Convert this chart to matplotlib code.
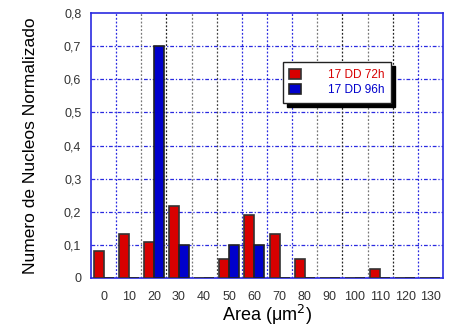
import numpy as np
import matplotlib.pyplot as plt

plt.rcParams["font.family"] = ["Liberation Sans", "DejaVu Sans"]

areas = [0, 10, 20, 30, 40, 50, 60, 70, 80, 90, 100, 110, 120, 130]
dd72 = [0.083, 0.134, 0.108, 0.216, 0, 0.057, 0.19, 0.134, 0.057, 0, 0, 0.027, 0, 0]
dd96 = [0, 0, 0.70, 0.10, 0, 0.10, 0.10, 0, 0, 0, 0, 0, 0, 0]
yticks = [0, 0.1, 0.2, 0.3, 0.4, 0.5, 0.6, 0.7, 0.8]
ylabels = ["0", "0,1", "0,2", "0,3", "0,4", "0,5", "0,6", "0,7", "0,8"]

red = "#d80000"
blue = "#0000cc"
axcol = "#2a2ae0"

fig = plt.figure(figsize=(4.49, 3.29), dpi=100)
ax = fig.add_axes([91/449, 1 - 278/329, 352/449, 265/329])

x = np.arange(len(areas))
w = 0.4
ax.bar(x - 0.2, dd72, w, color=red, edgecolor="#333333", linewidth=1.2, zorder=3, label="17 DD 72h")
ax.bar(x + 0.2, dd96, w, color=blue, edgecolor="#222222", linewidth=1.2, zorder=3, label="17 DD 96h")

ax.set_xlim(-0.5, len(areas) - 0.5)
ax.set_ylim(0, 0.8)

# grid lines
for yv in yticks[1:-1]:
    ax.axhline(yv, color=axcol, lw=0.9, ls=(0, (3, 1.5, 1, 1.5)), zorder=1)
vcols = [axcol, "#777777", "#222222", "#777777", "#444444", axcol, axcol, axcol,
         "#777777", "#222222", "#777777", "#222222", axcol]
for i, c in enumerate(vcols):
    ax.axvline(i + 0.5, color=c, lw=0.9, ls=(0, (1.5, 1.5)), zorder=1)

for s in ax.spines.values():
    s.set_color(axcol)
    s.set_linewidth(1.2)

ax.set_xticks(x)
ax.set_xticklabels([str(a) for a in areas], fontsize=9, color="#333333")
ax.set_yticks(yticks)
ax.set_yticklabels(ylabels, fontsize=9, color="#333333")
ax.tick_params(length=0, pad=9)
ax.tick_params(axis="y", pad=7)

ax.set_xlabel("Area (μm$^2$)", fontsize=13, labelpad=0)
ax.set_ylabel("Numero de Nucleos Normalizado", fontsize=12.5, labelpad=19)

leg = ax.legend(loc="upper left", bbox_to_anchor=(0.545, 0.815), fontsize=8.5,
                frameon=True, fancybox=False,
                shadow={"color": "black", "alpha": 1.0, "ox": 3, "oy": -3},
                borderpad=0.55, handlelength=1.0, handleheight=1.0, handletextpad=2.3,
                labelspacing=0.25, borderaxespad=0)
leg.get_frame().set_edgecolor("#222222")
leg.get_frame().set_linewidth(1.0)
for t, c in zip(leg.get_texts(), [red, blue]):
    t.set_color(c)

fig.savefig("out.png", dpi=100)
